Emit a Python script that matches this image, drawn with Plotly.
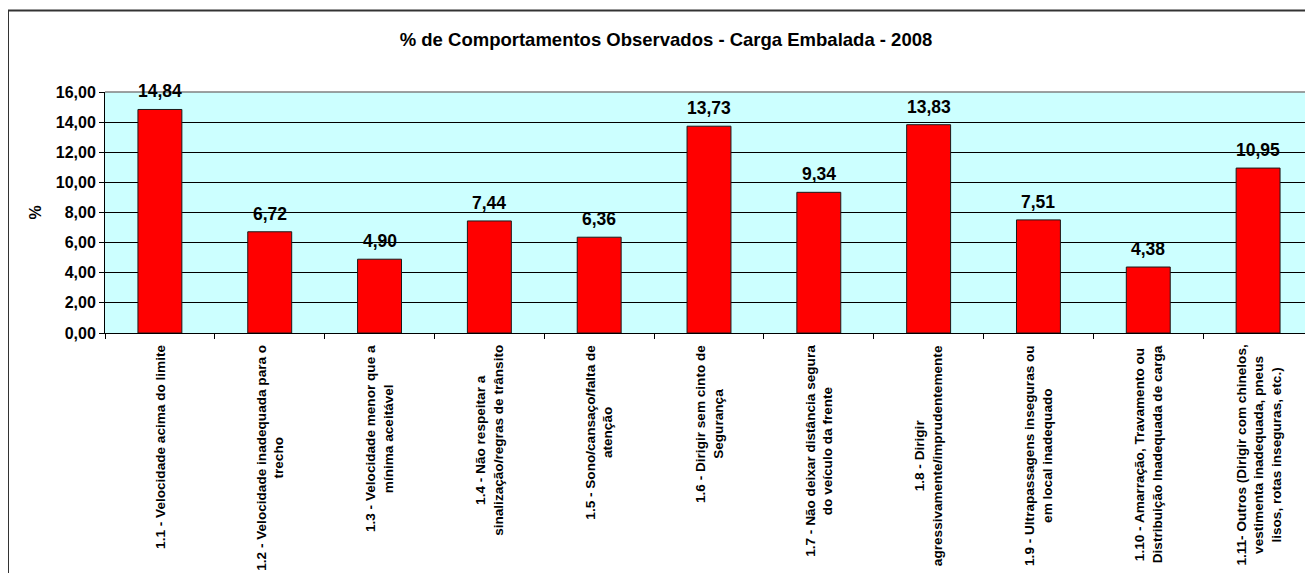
import plotly.graph_objects as go

categories = [
    "1.1 - Velocidade acima do limite",
    "1.2 - Velocidade inadequada para o<br>trecho",
    "1.3 - Velocidade menor que a<br>mínima aceitável",
    "1.4 - Não respeitar a<br>sinalização/regras de trânsito",
    "1.5 - Sono/cansaço/falta de<br>atenção",
    "1.6 - Dirigir sem cinto de<br>Segurança",
    "1.7 - Não deixar distância segura<br>do veículo da frente",
    "1.8 - Dirigir<br>agressivamente/imprudentemente",
    "1.9 - Ultrapassagens inseguras ou<br>em local inadequado",
    "1.10 - Amarração, Travamento ou<br>Distribuição Inadequada de carga",
    "1.11- Outros (Dirigir com chinelos,<br>vestimenta inadequada, pneus<br>lisos, rotas inseguras, etc.)",
]
values = [14.84, 6.72, 4.90, 7.44, 6.36, 13.73, 9.34, 13.83, 7.51, 4.38, 10.95]
y_ticks = [0, 2, 4, 6, 8, 10, 12, 14, 16]
title_text = "% de Comportamentos Observados - Carga Embalada - 2008"
y_title = "%"

FONT = "Arial, 'Liberation Sans', sans-serif"
OFF = 8  # page body margin
W, H = 1313 - OFF, 581 - 2 * OFF
L, T = 105 - OFF, 92 - OFF
pw, ph = 1208, 241
R = W - L - pw
B = H - T - ph

fig = go.Figure()
fig.add_trace(go.Bar(
    x=categories, y=values,
    marker=dict(color="#FF0000", line=dict(color="#1a1a1a", width=1)),
    width=0.4,
    hoverinfo="skip",
))

# value labels
for c, v in zip(categories, values):
    fig.add_annotation(
        x=c, y=v, xref="x", yref="y",
        text="<b>" + f"{v:.2f}".replace(".", ",") + "</b>",
        showarrow=False, yanchor="bottom", yshift=6,
        font=dict(family=FONT, size=17.5, color="#000000"),
    )

# category labels (rotated, centered lines)
for c in categories:
    fig.add_annotation(
        x=c, y=0, xref="x", yref="paper",
        text="<b>" + c + "</b>",
        showarrow=False, textangle=-90,
        xanchor="center", yanchor="top", yshift=-10,
        align="center",
        font=dict(family=FONT, size=13.6, color="#000000"),
    )

# outer chart border (page coords: left 8, top 10.5)
fig.add_shape(
    type="rect", xref="paper", yref="paper",
    x0=(8 - OFF - L) / pw, x1=(W + 10 - L) / pw,
    y0=-(B + 10) / ph, y1=(T + ph - (10.5 - OFF)) / ph,
    line=dict(color="#333333", width=2), layer="above",
)
# plot area top border (grey)
fig.add_shape(
    type="line", xref="paper", yref="paper",
    x0=0, x1=1, y0=1, y1=1,
    line=dict(color="#808080", width=1.5), layer="above",
)

fig.update_layout(
    width=W, height=H,
    margin=dict(l=L, r=R, t=T, b=B, pad=0),
    paper_bgcolor="#FFFFFF",
    plot_bgcolor="#CCFFFF",
    separators=",.",
    showlegend=False,
    bargap=0.6,
    title=dict(
        text="<b>" + title_text + "</b>",
        x=(666 - OFF) / W, xanchor="center",
        y=1 - (40 - OFF) / H, yanchor="middle",
        font=dict(family=FONT, size=18.5, color="#000000"),
    ),
    font=dict(family=FONT, color="#000000"),
)
fig.update_xaxes(
    type="category",
    showticklabels=False,
    ticks="outside", tickson="boundaries", ticklen=5,
    tickcolor="#000000", tickwidth=1,
    showline=True, linecolor="#000000", linewidth=1,
    showgrid=False, range=[-0.5, len(categories) - 0.5],
)
fig.update_yaxes(
    range=[0, 16],
    tickvals=y_ticks,
    tickformat=".2f",
    tickfont=dict(family=FONT, size=16, color="#000000", weight="bold"),
    ticks="outside", ticklen=5, tickcolor="#000000",
    showline=True, linecolor="#000000", linewidth=1,
    showgrid=True, gridcolor="#000000", gridwidth=1,
    zeroline=False,
    title=dict(text="<b>" + y_title + "</b>", standoff=10,
               font=dict(family=FONT, size=16, color="#000000")),
)

fig.write_html("out.html")
